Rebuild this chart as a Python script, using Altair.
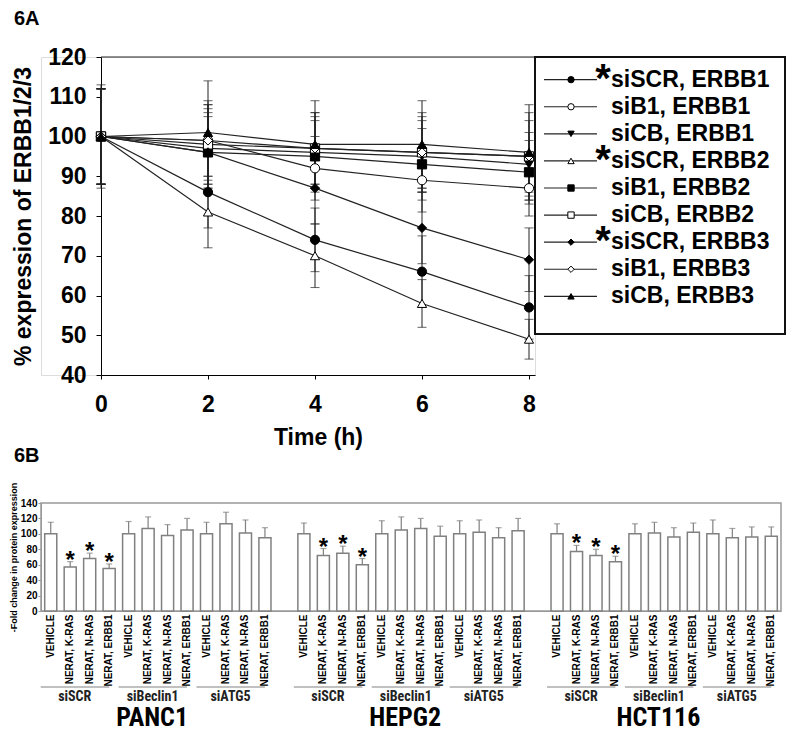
import altair as alt
import pandas as pd

# ---------------- 6A data ----------------
times = [0, 2, 4, 6, 8]
series = ["siSCR, ERBB1", "siB1, ERBB1", "siCB, ERBB1",
          "siSCR, ERBB2", "siB1, ERBB2", "siCB, ERBB2",
          "siSCR, ERBB3", "siB1, ERBB3", "siCB, ERBB3"]
starred = [True, False, False, True, False, False, True, False, False]
shapes = ["circle", "circle", "triangle-down", "triangle-up", "square",
          "square", "diamond", "diamond", "triangle-up"]
fills = ["black", "white", "black", "white", "black", "white", "black", "white", "black"]
means_a = [
    [100, 86, 74, 66, 57],
    [100, 99, 92, 89, 87],
    [100, 97, 96, 95, 93],
    [100, 81, 70, 58, 49],
    [100, 96, 95, 93, 91],
    [100, 98, 97, 96, 95],
    [100, 96, 87, 77, 69],
    [100, 99, 97, 96, 95],
    [100, 101, 98, 98, 96],
]
errs_a = [
    [12, 9, 8, 9, 8],
    [12, 9, 8, 8, 7],
    [12, 10, 9, 9, 8],
    [12, 9, 8, 6, 5],
    [12, 10, 9, 9, 8],
    [12, 10, 9, 9, 9],
    [12, 9, 9, 9, 8],
    [12, 10, 9, 10, 11],
    [13, 13, 11, 11, 12],
]

# ---------------- 6B data ----------------
cells = ["PANC1", "HEPG2", "HCT116"]
groups = ["siSCR", "siBeclin1", "siATG5"]
treatments = ["VEHICLE", "NERAT, K-RAS", "NERAT, N-RAS", "NERAT, ERBB1"]
bar_means = {
    "PANC1": [100, 57, 68, 55, 100, 107, 98, 105, 100, 113, 101, 95],
    "HEPG2": [100, 72, 75, 60, 100, 105, 107, 97, 100, 102, 95, 104],
    "HCT116": [100, 77, 72, 64, 100, 101, 96, 102, 100, 95, 96, 97],
}
bar_errs = {
    "PANC1": [15, 7, 7, 6, 16, 15, 14, 15, 15, 15, 17, 13],
    "HEPG2": [14, 9, 9, 8, 17, 17, 13, 13, 17, 16, 13, 16],
    "HCT116": [13, 8, 8, 7, 13, 14, 12, 12, 18, 12, 13, 12],
}

FONT = "Liberation Sans"
NARROW = '"Liberation Sans Narrow", "Roboto Condensed", Roboto, sans-serif'

# ---------------- build 6A tables ----------------
rows = []
for s, m, e in zip(series, means_a, errs_a):
    for t, mv, ev in zip(times, m, e):
        rows.append({"series": s, "t": t, "mean": mv, "lo": mv - ev, "hi": mv + ev})
df_a = pd.DataFrame(rows)

df_leg = pd.DataFrame({"i": list(range(len(series))), "label": series, "star": starred})

ytitle = "% expression of ERBB1/2/3"
xs = alt.Scale(domain=[0, 8.112], nice=False)
ys = alt.Scale(domain=[40, 120], nice=False)
x_axis = alt.Axis(values=times, title="Time (h)", labelFontSize=23, labelFontWeight="bold",
                  titleFontSize=23, titleFontWeight="bold", labelPadding=14, titlePadding=10,
                  tickSize=4, grid=False, domainColor="black", tickColor="black",
                  labelColor="black", titleColor="black", labelFlush=False)
y_axis = alt.Axis(values=list(range(40, 121, 10)), title=ytitle, labelFontSize=23,
                  labelFontWeight="bold", titleFontSize=23, titleFontWeight="bold",
                  labelPadding=10, titlePadding=12, tickSize=5, grid=False,
                  domainColor="black", tickColor="black", labelColor="black",
                  titleColor="black")
X = alt.X("t:Q", scale=xs, axis=x_axis)
shape_enc = alt.Shape("series:N", scale=alt.Scale(domain=series, range=shapes), legend=None)
fill_enc = alt.Fill("series:N", scale=alt.Scale(domain=series, range=fills), legend=None)

base = alt.Chart(df_a)
lines = base.mark_line(color="#222", strokeWidth=1.2).encode(
    x=X, y=alt.Y("mean:Q", scale=ys, axis=y_axis, title=ytitle), detail="series:N")
err = base.mark_rule(color="#222", strokeWidth=1).encode(
    x=X, y=alt.Y("lo:Q", scale=ys, axis=y_axis, title=ytitle), y2="hi:Q")
cap_lo = base.mark_tick(color="#222", orient="horizontal", size=9, thickness=1).encode(
    x=X, y=alt.Y("lo:Q", scale=ys, axis=y_axis, title=ytitle))
cap_hi = base.mark_tick(color="#222", orient="horizontal", size=9, thickness=1).encode(
    x=X, y=alt.Y("hi:Q", scale=ys, axis=y_axis, title=ytitle))
pts = base.mark_point(filled=True, size=85, stroke="black", strokeWidth=1, opacity=1).encode(
    x=X, y=alt.Y("mean:Q", scale=ys, axis=y_axis, title=ytitle), shape=shape_enc, fill=fill_enc)
frame_top = alt.Chart(pd.DataFrame({"y": [120]})).mark_rule(color="#222").encode(
    y=alt.Y("y:Q", scale=ys, axis=y_axis, title=ytitle), x=alt.value(0), x2=alt.value(434))

line_chart = alt.layer(lines, err, cap_lo, cap_hi, pts, frame_top).properties(
    width=434, height=318)

spacer = alt.Chart(pd.DataFrame({"a": [0]})).mark_point(opacity=0).encode(
    x=alt.value(0), y=alt.value(0)).properties(
    width=60, height=318,
    title=alt.Title("6A", anchor="start", frame="group", dx=-27, offset=9,
                    baseline="alphabetic", fontSize=20, fontWeight="bold", font=FONT,
                    color="black"))

ly = alt.Y("i:Q", scale=alt.Scale(domain=[-0.838, 9.391], reverse=True, nice=False), axis=None)
leg_base = alt.Chart(df_leg)
leg_lines = leg_base.mark_rule(color="#222", strokeWidth=1.2).encode(
    y=ly, x=alt.value(9), x2=alt.value(62))
leg_pts = leg_base.mark_point(filled=True, size=40, stroke="black", strokeWidth=1, opacity=1).encode(
    y=ly, x=alt.value(36),
    shape=alt.Shape("label:N", scale=alt.Scale(domain=series, range=shapes), legend=None),
    fill=alt.Fill("label:N", scale=alt.Scale(domain=series, range=fills), legend=None))
leg_text = leg_base.mark_text(align="left", baseline="middle", fontSize=23, fontWeight="bold",
                              font=FONT, color="black").encode(
    y=ly, x=alt.value(76), text="label:N")
leg_star = leg_base.transform_filter("datum.star").mark_text(
    align="center", baseline="alphabetic", fontSize=40, fontWeight="bold", font=FONT,
    color="black", dy=12).encode(y=ly, x=alt.value(68), text=alt.value("*"))
legend_chart = alt.layer(leg_lines, leg_pts, leg_text, leg_star).properties(
    width=250, height=277, view=alt.ViewBackground(stroke="#111", strokeWidth=2))

top_row = alt.hconcat(spacer, line_chart, legend_chart, spacing=0, bounds="flush")

# ---------------- build 6B tables ----------------
brows = []
domain = []
grows = []
crows = []
for ci, c in enumerate(cells):
    if ci > 0:
        domain.append("gap%d" % ci)
    k = 0
    keys_c = []
    for g in groups:
        keys_g = []
        for t in treatments:
            key = "%s|%s|%s" % (c, g, t)
            m = bar_means[c][k]
            e = bar_errs[c][k]
            brows.append({"key": key, "mean": m, "top": m + e,
                          "star": (g == "siSCR" and t != "VEHICLE")})
            domain.append(key)
            keys_g.append(key)
            keys_c.append(key)
            k += 1
        grows.append({"key": keys_g[0], "last": keys_g[3], "label": g})
    crows.append({"key": keys_c[5], "cell": c})
df_b = pd.DataFrame(brows)
df_g = pd.DataFrame(grows)
df_c = pd.DataFrame(crows)

btitle = "-Fold change in protein expression"
kx = alt.Scale(domain=domain, paddingInner=0.38, paddingOuter=0.19)
bx_axis = alt.Axis(
    labelExpr="indexof(datum.value, '|') < 0 ? '' : slice(datum.value, lastindexof(datum.value, '|') + 1)",
    labelAngle=270, labelFontSize=10, labelFontWeight="bold", ticks=False,
    labelPadding=3, domainColor="#999", title=None, labelOverlap=False,
    labelColor="black", labelLimit=200, labelFont=FONT)
by_axis = alt.Axis(values=list(range(0, 141, 20)), title=btitle, titleFontSize=9,
                   titleFontWeight="bold", labelFontSize=10, labelFontWeight="bold",
                   tickSize=3, labelPadding=1, titlePadding=2, grid=False,
                   domainColor="#999", tickColor="#999", labelColor="black",
                   titleColor="black")
bys = alt.Scale(domain=[0, 140], nice=False)
BX = alt.X("key:N", scale=kx, sort=domain, axis=bx_axis, title=None)
BY_MEAN = alt.Y("mean:Q", scale=bys, axis=by_axis, title=btitle)
BY_TOP = alt.Y("top:Q", scale=bys, axis=by_axis, title=btitle)

bbase = alt.Chart(df_b)
bars = bbase.mark_bar(fill="white", stroke="#808080", strokeWidth=1.5).encode(x=BX, y=BY_MEAN)
berr = bbase.mark_rule(color="#808080", strokeWidth=1.2).encode(x=BX, y=BY_MEAN, y2="top:Q")
bcap = bbase.mark_tick(color="#808080", orient="horizontal", size=6, thickness=1.2).encode(
    x=BX, y=BY_TOP)
bstar = bbase.transform_filter("datum.star").mark_text(
    fontSize=24, fontWeight="bold", font=FONT, baseline="alphabetic", dy=6, color="black").encode(
    x=BX, y=BY_TOP, text=alt.value("*"))
grules = alt.Chart(df_g).mark_rule(color="#c0c0c0", strokeWidth=2, xOffset=-4).encode(
    x=alt.X("key:N", scale=kx, sort=domain, bandPosition=0, axis=bx_axis, title=None),
    x2=alt.X2("last:N", bandPosition=0.5), y=alt.value(184))
gtext = alt.Chart(df_g).mark_text(fontSize=14, fontWeight="bold", font=NARROW, dx=24,
                                  baseline="middle", color="#222").encode(
    x=alt.X("key:N", scale=kx, sort=domain, axis=bx_axis, title=None),
    y=alt.value(194), text="label:N")
ctext = alt.Chart(df_c).mark_text(fontSize=26, fontWeight="bold", font=NARROW, dx=4,
                                  baseline="alphabetic", color="black").encode(
    x=alt.X("key:N", scale=kx, sort=domain, axis=bx_axis, title=None),
    y=alt.value(223), text="cell:N")

bar_chart = alt.layer(bars, berr, bcap, bstar, grules, gtext, ctext).properties(
    width=740, height=108, view=alt.ViewBackground(stroke="#999", strokeWidth=1.5),
    title=alt.Title("6B", anchor="start", frame="group", dx=-27, offset=0,
                    baseline="alphabetic", fontSize=20, fontWeight="bold", font=FONT,
                    color="black"))

chart = alt.vconcat(top_row, bar_chart, spacing=446, bounds="flush").properties(
    padding=0, background="white"
).configure_view(stroke=None).configure(font=FONT)

chart.save("out.html", embed_options={"renderer": "svg", "actions": False})
